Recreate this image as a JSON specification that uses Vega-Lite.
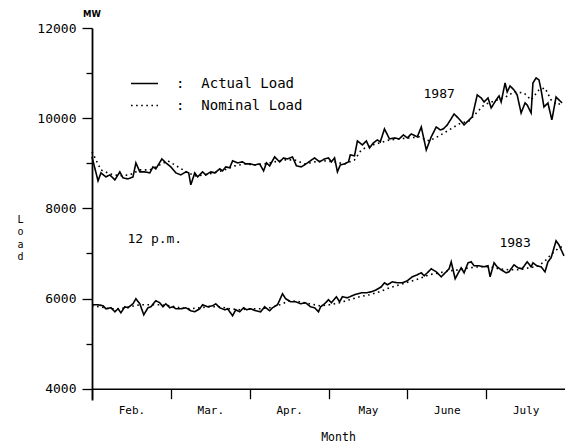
{
  "$schema": "https://vega.github.io/schema/vega-lite/v6.json",
  "width": 473,
  "height": 372,
  "autosize": "none",
  "padding": {"left": 92, "top": 28, "right": 0, "bottom": 45},
  "background": "white",
  "config": {
    "view": {"stroke": null},
    "font": "DejaVu Sans Mono",
    "axis": {"domainColor": "black", "tickColor": "black", "labelColor": "black", "titleColor": "black", "grid": false, "labelFont": "DejaVu Sans Mono", "titleFont": "DejaVu Sans Mono", "titleFontWeight": "normal"}
  },
  "datasets": {
    "a87": [
      {"d":0,"v":9141},{"d":2.3,"v":8610},{"d":3.4,"v":8787},{"d":5.3,"v":8698},{"d":6.8,"v":8742},{"d":8.7,"v":8632},{"d":10.6,"v":8809},{"d":11.8,"v":8676},{"d":13.7,"v":8654},{"d":15.6,"v":8698},{"d":16.7,"v":9009},{"d":18.2,"v":8809},{"d":20.1,"v":8809},{"d":22,"v":8787},{"d":23.2,"v":8920},{"d":24.3,"v":8876},{"d":26.6,"v":9097},{"d":28.1,"v":9009},{"d":30,"v":8920},{"d":31.9,"v":8787},{"d":33.8,"v":8742},{"d":35.7,"v":8809},{"d":36.8,"v":8787},{"d":37.6,"v":8521},{"d":39.1,"v":8787},{"d":40.2,"v":8698},{"d":42.1,"v":8809},{"d":43.3,"v":8742},{"d":45.2,"v":8809},{"d":46.7,"v":8787},{"d":48.6,"v":8876},{"d":49.7,"v":8831},{"d":50.9,"v":8920},{"d":52.4,"v":8898},{"d":53.5,"v":9053},{"d":55.4,"v":9009},{"d":57.3,"v":9031},{"d":58.5,"v":8986},{"d":60.4,"v":8986},{"d":61.9,"v":8964},{"d":63.8,"v":8986},{"d":65.3,"v":8831},{"d":66.4,"v":9009},{"d":67.6,"v":8942},{"d":69.5,"v":9141},{"d":71.4,"v":9031},{"d":72.9,"v":9119},{"d":74.4,"v":9097},{"d":76.3,"v":9141},{"d":77.8,"v":8942},{"d":79.7,"v":8920},{"d":82,"v":9009},{"d":84.7,"v":9119},{"d":86.6,"v":9031},{"d":88.5,"v":9097},{"d":90,"v":9119},{"d":91.1,"v":9031},{"d":92.3,"v":9119},{"d":93.4,"v":8809},{"d":94.5,"v":8964},{"d":96.1,"v":8986},{"d":97.6,"v":9031},{"d":98.3,"v":9186},{"d":99.9,"v":9164},{"d":101,"v":9496},{"d":102.9,"v":9407},{"d":104.4,"v":9496},{"d":105.6,"v":9341},{"d":107.1,"v":9452},{"d":108.6,"v":9518},{"d":109.7,"v":9474},{"d":111.3,"v":9762},{"d":113.2,"v":9540},{"d":115.1,"v":9562},{"d":116.9,"v":9540},{"d":118.5,"v":9629},{"d":120,"v":9562},{"d":121.5,"v":9651},{"d":123.8,"v":9585},{"d":125.3,"v":9806},{"d":127.2,"v":9297},{"d":129.1,"v":9585},{"d":131,"v":9806},{"d":132.5,"v":9740},{"d":133.7,"v":9762},{"d":135.2,"v":9851},{"d":137.8,"v":10094},{"d":139.7,"v":9983},{"d":141.6,"v":9851},{"d":143.5,"v":9961},{"d":144.7,"v":10028},{"d":146.6,"v":10515},{"d":148.1,"v":10449},{"d":149.2,"v":10360},{"d":150.7,"v":10449},{"d":151.9,"v":10227},{"d":153.8,"v":10405},{"d":154.9,"v":10493},{"d":155.7,"v":10360},{"d":157.2,"v":10781},{"d":158,"v":10582},{"d":159.1,"v":10715},{"d":160.6,"v":10626},{"d":161.8,"v":10515},{"d":163.3,"v":10116},{"d":164.8,"v":10338},{"d":165.6,"v":10294},{"d":167.1,"v":10116},{"d":167.8,"v":10781},{"d":169,"v":10892},{"d":170.1,"v":10848},{"d":170.9,"v":10626},{"d":172,"v":10249},{"d":173.5,"v":10338},{"d":175,"v":9961},{"d":176.6,"v":10471},{"d":177.7,"v":10405},{"d":178.9,"v":10338}
    ],
    "n87": [
      {"d":0,"v":9253},{"d":1.5,"v":9075},{"d":3.4,"v":8853},{"d":6.8,"v":8765},{"d":10.6,"v":8720},{"d":14.4,"v":8742},{"d":18.2,"v":8853},{"d":22,"v":8853},{"d":25.8,"v":8964},{"d":28.9,"v":9053},{"d":31.5,"v":8964},{"d":35.3,"v":8831},{"d":39.1,"v":8720},{"d":42.9,"v":8742},{"d":46.7,"v":8787},{"d":50.5,"v":8853},{"d":54.3,"v":8942},{"d":58.1,"v":8986},{"d":61.9,"v":8964},{"d":65.7,"v":8986},{"d":69.5,"v":9031},{"d":73.3,"v":9075},{"d":77.1,"v":9075},{"d":80.9,"v":8986},{"d":84.7,"v":9031},{"d":88.5,"v":9053},{"d":92.3,"v":9031},{"d":96.1,"v":8986},{"d":99.9,"v":9075},{"d":102.5,"v":9297},{"d":105.6,"v":9385},{"d":109.4,"v":9452},{"d":113.2,"v":9518},{"d":116.9,"v":9540},{"d":120.7,"v":9562},{"d":124.6,"v":9585},{"d":128.3,"v":9496},{"d":132.1,"v":9607},{"d":135.9,"v":9740},{"d":139.7,"v":9873},{"d":143.5,"v":9939},{"d":146.6,"v":10138},{"d":149.2,"v":10294},{"d":153,"v":10382},{"d":156.8,"v":10449},{"d":160.6,"v":10582},{"d":164.4,"v":10560},{"d":167.1,"v":10405},{"d":170.1,"v":10626},{"d":172.4,"v":10670},{"d":174.7,"v":10405},{"d":176.9,"v":10294},{"d":178.9,"v":10338}
    ],
    "a83": [
      {"d":0,"v":5862},{"d":2.3,"v":5862},{"d":4.2,"v":5840},{"d":5.3,"v":5773},{"d":7.2,"v":5796},{"d":8.7,"v":5707},{"d":9.9,"v":5773},{"d":11,"v":5685},{"d":12.5,"v":5818},{"d":13.7,"v":5796},{"d":15.6,"v":5884},{"d":16.7,"v":5995},{"d":18.2,"v":5884},{"d":19.7,"v":5640},{"d":21.3,"v":5796},{"d":22.4,"v":5818},{"d":24.3,"v":5951},{"d":25.8,"v":5906},{"d":27,"v":5818},{"d":28.1,"v":5884},{"d":29.6,"v":5796},{"d":30.8,"v":5818},{"d":31.9,"v":5773},{"d":33.8,"v":5773},{"d":35.7,"v":5796},{"d":37.6,"v":5729},{"d":39.1,"v":5707},{"d":41,"v":5773},{"d":42.1,"v":5862},{"d":44,"v":5818},{"d":45.9,"v":5840},{"d":47.1,"v":5884},{"d":48.6,"v":5796},{"d":50.5,"v":5751},{"d":51.6,"v":5773},{"d":53.5,"v":5618},{"d":54.7,"v":5751},{"d":56.2,"v":5707},{"d":57.7,"v":5796},{"d":58.9,"v":5751},{"d":60.4,"v":5773},{"d":62.3,"v":5729},{"d":64.2,"v":5707},{"d":65.7,"v":5818},{"d":67.6,"v":5729},{"d":68.7,"v":5796},{"d":70.6,"v":5862},{"d":72.5,"v":6106},{"d":73.7,"v":5995},{"d":75.6,"v":5929},{"d":77.5,"v":5929},{"d":79.4,"v":5884},{"d":81.3,"v":5906},{"d":83.2,"v":5818},{"d":84.7,"v":5796},{"d":86.2,"v":5707},{"d":87,"v":5818},{"d":88.5,"v":5884},{"d":90,"v":5973},{"d":91.1,"v":5906},{"d":93,"v":6040},{"d":94.2,"v":5929},{"d":95.3,"v":6040},{"d":97.2,"v":6017},{"d":99.9,"v":6084},{"d":102.5,"v":6128},{"d":104.4,"v":6128},{"d":106.3,"v":6150},{"d":108.2,"v":6194},{"d":110.1,"v":6261},{"d":111.3,"v":6349},{"d":112.4,"v":6305},{"d":114.3,"v":6371},{"d":116.2,"v":6349},{"d":118.1,"v":6349},{"d":120,"v":6394},{"d":121.9,"v":6482},{"d":123.8,"v":6527},{"d":125.3,"v":6571},{"d":126.4,"v":6505},{"d":127.6,"v":6571},{"d":129.1,"v":6660},{"d":131,"v":6593},{"d":132.9,"v":6482},{"d":134.4,"v":6571},{"d":135.9,"v":6660},{"d":136.7,"v":6815},{"d":138.2,"v":6438},{"d":139.4,"v":6571},{"d":140.5,"v":6682},{"d":141.6,"v":6571},{"d":143.1,"v":6792},{"d":144.3,"v":6815},{"d":145.4,"v":6726},{"d":147.3,"v":6726},{"d":149.2,"v":6704},{"d":150.7,"v":6726},{"d":151.5,"v":6482},{"d":153,"v":6792},{"d":154.2,"v":6704},{"d":155.7,"v":6637},{"d":157.6,"v":6571},{"d":158.7,"v":6593},{"d":160.6,"v":6748},{"d":162.1,"v":6682},{"d":163.7,"v":6660},{"d":165.6,"v":6815},{"d":167.1,"v":6704},{"d":167.8,"v":6792},{"d":169.3,"v":6726},{"d":170.9,"v":6704},{"d":172.4,"v":6593},{"d":173.5,"v":6815},{"d":174.7,"v":6903},{"d":176.6,"v":7280},{"d":177.7,"v":7191},{"d":179.6,"v":6947}
    ],
    "n83": [
      {"d":0,"v":5840},{"d":3,"v":5818},{"d":6.8,"v":5773},{"d":10.6,"v":5773},{"d":14.4,"v":5818},{"d":18.2,"v":5862},{"d":22,"v":5862},{"d":25.8,"v":5862},{"d":29.6,"v":5840},{"d":33.4,"v":5796},{"d":37.2,"v":5773},{"d":41,"v":5796},{"d":44.8,"v":5818},{"d":48.6,"v":5818},{"d":52.4,"v":5773},{"d":56.2,"v":5751},{"d":60,"v":5773},{"d":63.8,"v":5773},{"d":67.6,"v":5796},{"d":71.4,"v":5862},{"d":75.2,"v":5951},{"d":79,"v":5929},{"d":82.8,"v":5884},{"d":86.6,"v":5840},{"d":90.4,"v":5862},{"d":94.2,"v":5906},{"d":98,"v":5973},{"d":101.8,"v":6040},{"d":105.6,"v":6084},{"d":109.4,"v":6150},{"d":113.2,"v":6239},{"d":116.9,"v":6305},{"d":120.7,"v":6371},{"d":124.5,"v":6438},{"d":128.3,"v":6527},{"d":132.1,"v":6571},{"d":135.9,"v":6615},{"d":139.7,"v":6637},{"d":143.5,"v":6682},{"d":147.3,"v":6704},{"d":151.1,"v":6704},{"d":154.9,"v":6660},{"d":158.7,"v":6637},{"d":162.5,"v":6637},{"d":166.3,"v":6682},{"d":170.1,"v":6726},{"d":172.8,"v":6859},{"d":175,"v":6992},{"d":177.7,"v":7125},{"d":179.6,"v":7169}
    ],
    "notes": [
      {"d":132.1,"v":10540,"label":"1987"},
      {"d":161,"v":7240,"label":"1983"},
      {"d":23.9,"v":7330,"label":"12 p.m."}
    ],
    "unit": [
      {"d":0,"v":12310,"label":"MW"}
    ]
  },
  "layer": [
    {
      "data": {"name": "a87"},
      "mark": {"type": "line", "color": "black", "strokeWidth": 1.6},
      "encoding": {
        "x": {"field": "d", "type": "quantitative",
          "scale": {"domain": [0, 180], "nice": false, "zero": false},
          "axis": {"values": [0, 30, 60, 90, 120, 150], "title": "Month", "labelExpr": "['Feb.','Mar.','Apr.','May','June','July'][datum.value/30]", "labelOffset": 39.5, "tickSize": 10, "tickWidth": 1.3, "domainWidth": 1.6, "offset": -11.3, "labelPadding": 6, "labelFontSize": 11, "titleFontSize": 11.5, "titleX": 246, "titleY": 52, "titleBaseline": "alphabetic", "labelFlush": false, "labelOverlap": false}},
        "y": {"field": "v", "type": "quantitative",
          "scale": {"domain": [3750, 12000], "nice": false, "zero": false},
          "axis": {"values": [4000, 5000, 6000, 7000, 8000, 9000, 10000, 11000, 12000], "format": "d", "labelExpr": "datum.value % 2000 === 0 ? datum.label : ''", "tickSize": {"condition": {"test": "datum.value % 2000 !== 0", "value": 6}, "value": 10}, "tickWidth": 1.3, "domainWidth": 1.8, "labelPadding": 6, "labelFontSize": 13, "labelFlush": false, "labelOverlap": false, "title": ["L", "o", "a", "d"], "titleAngle": 0, "titleFontSize": 10, "titleLineHeight": 12.5, "titleAlign": "center", "titleBaseline": "alphabetic", "titleX": -72, "titleY": 194}},
        "strokeDash": {"datum": "Actual Load", "type": "nominal",
          "scale": {"domain": ["Actual Load", "Nominal Load"], "range": [[1, 0], [1.6, 3.5]]},
          "legend": {"orient": "none", "legendX": 38, "legendY": 41, "title": null, "padding": 0, "symbolType": "stroke", "symbolSize": 729, "symbolStrokeColor": "black", "symbolStrokeWidth": 1.6, "labelOffset": 17, "labelFontSize": 14, "labelColor": "black", "labelFont": "DejaVu Sans Mono", "rowPadding": 0, "labelExpr": "':\u00a0\u00a0' + datum.label", "labelLimit": 300}}
      }
    },
    {
      "data": {"name": "n87"},
      "mark": {"type": "line", "color": "black", "strokeWidth": 1.6},
      "encoding": {
        "x": {"field": "d", "type": "quantitative"},
        "y": {"field": "v", "type": "quantitative"},
        "strokeDash": {"datum": "Nominal Load", "type": "nominal"}
      }
    },
    {
      "data": {"name": "a83"},
      "mark": {"type": "line", "color": "black", "strokeWidth": 1.6},
      "encoding": {
        "x": {"field": "d", "type": "quantitative"},
        "y": {"field": "v", "type": "quantitative"},
        "strokeDash": {"datum": "Actual Load", "type": "nominal"}
      }
    },
    {
      "data": {"name": "n83"},
      "mark": {"type": "line", "color": "black", "strokeWidth": 1.6},
      "encoding": {
        "x": {"field": "d", "type": "quantitative"},
        "y": {"field": "v", "type": "quantitative"},
        "strokeDash": {"datum": "Nominal Load", "type": "nominal"}
      }
    },
    {
      "data": {"name": "notes"},
      "mark": {"type": "text", "color": "black", "fontSize": 13, "font": "DejaVu Sans Mono", "align": "center", "baseline": "middle"},
      "encoding": {
        "x": {"field": "d", "type": "quantitative"},
        "y": {"field": "v", "type": "quantitative"},
        "text": {"field": "label"}
      }
    },
    {
      "data": {"name": "unit"},
      "mark": {"type": "text", "color": "black", "fontSize": 8.5, "fontWeight": "bold", "font": "DejaVu Sans", "align": "center", "baseline": "middle"},
      "encoding": {
        "x": {"field": "d", "type": "quantitative"},
        "y": {"field": "v", "type": "quantitative"},
        "text": {"field": "label"}
      }
    }
  ]
}
